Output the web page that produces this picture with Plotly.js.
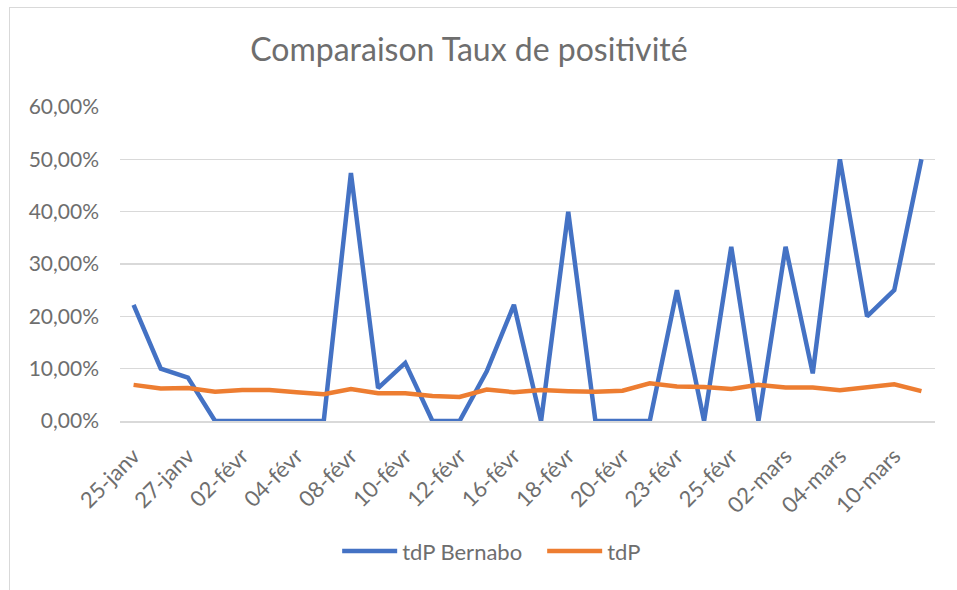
<!DOCTYPE html>
<html>
<head>
<meta charset="utf-8">
<script src="https://cdn.plot.ly/plotly-3.0.1.min.js"></script>
<style>
  html, body { margin: 0; padding: 0; background: #fff; }
  #wrap { position: relative; width: 957px; height: 590px; overflow: hidden; }
  #frame { position: absolute; left: 9px; top: 7px; width: 1000px; height: 700px;
           border-left: 1.5px solid #d9d9d9; border-top: 1.5px solid #d9d9d9; pointer-events: none; }
  #chart { position: absolute; left: 0; top: 0; width: 957px; height: 590px; }
</style>
</head>
<body>
<div id="wrap">
  <div id="chart"></div>
  <div id="frame"></div>
</div>
<script>
const categories = [
  "25-janv", "26-janv", "27-janv", "01-févr", "02-févr", "03-févr", "04-févr", "05-févr",
  "08-févr", "09-févr", "10-févr", "11-févr", "12-févr", "15-févr", "16-févr", "17-févr",
  "18-févr", "19-févr", "20-févr", "22-févr", "23-févr", "24-févr", "25-févr", "01-mars",
  "02-mars", "03-mars", "04-mars", "09-mars", "10-mars", "11-mars"
];
const tdpBernabo = [
  0.222, 0.100, 0.083, 0, 0, 0, 0, 0,
  0.474, 0.063, 0.111, 0, 0, 0.095, 0.222, 0,
  0.400, 0, 0, 0, 0.250, 0, 0.333, 0,
  0.333, 0.091, 0.500, 0.200, 0.250, 0.500
];
const tdp = [
  0.069, 0.062, 0.063, 0.056, 0.059, 0.059, 0.055, 0.051,
  0.061, 0.053, 0.053, 0.048, 0.046, 0.060, 0.055, 0.059,
  0.057, 0.056, 0.058, 0.072, 0.066, 0.065, 0.061, 0.069,
  0.064, 0.064, 0.059, 0.064, 0.070, 0.057
];
const tickLabels = categories.filter((c, i) => i % 2 === 0);

const FONT = "Lato, 'Open Sans', sans-serif";
const GREY = "#6e6e6e";

const traces = [
  { type: "scatter", mode: "lines", name: "tdP Bernabo", x: categories, y: tdpBernabo,
    line: { color: "#4472c4", width: 4.5, shape: "linear" } },
  { type: "scatter", mode: "lines", name: "tdP", x: categories, y: tdp,
    line: { color: "#ed7d31", width: 4.5, shape: "linear" } }
];

const layout = {
  width: 957, height: 590,
  margin: { l: 120, r: 22, t: 107, b: 169 },
  paper_bgcolor: "#ffffff", plot_bgcolor: "#ffffff",
  separators: ", ",
  font: { family: FONT, color: GREY, size: 20 },
  title: { text: "Comparaison Taux de positivité", font: { family: FONT, size: 32, color: GREY },
           x: 0.49, xanchor: "center", y: 0.915, yanchor: "middle", yref: "container", xref: "container" },
  xaxis: {
    type: "category", categoryorder: "array", categoryarray: categories,
    range: [-0.5, categories.length - 0.5],
    tickmode: "array", tickvals: tickLabels, ticktext: tickLabels,
    tickangle: -45, tickfont: { family: FONT, size: 22, color: GREY },
    showgrid: false, showline: true, linecolor: "#d9d9d9", linewidth: 1.5,
    ticks: "", ticklabelstandoff: 12, zeroline: false, fixedrange: true
  },
  yaxis: {
    range: [0, 0.6], dtick: 0.1, tick0: 0, tickformat: ".2%",
    tickfont: { family: FONT, size: 21, color: GREY },
    showgrid: true, gridcolor: "#d9d9d9", gridwidth: 1.5,
    zeroline: false, showline: false, ticks: "", ticklabelstandoff: 20, fixedrange: true
  },
  showlegend: true,
  legend: { orientation: "h", x: 0.518, xanchor: "center", y: -0.415, yanchor: "middle",
            itemwidth: 55, entrywidth: 135, entrywidthmode: "pixels",
            font: { family: FONT, size: 22, color: GREY }, tracegroupgap: 0 }
};

Plotly.newPlot("chart", traces, layout, { displayModeBar: false, staticPlot: true });
</script>
</body>
</html>
